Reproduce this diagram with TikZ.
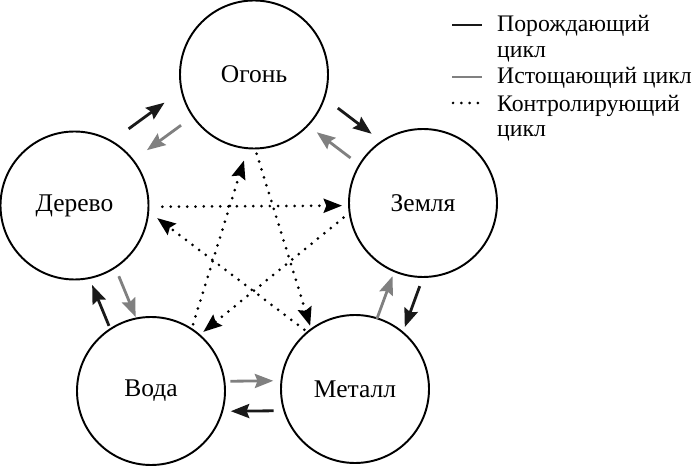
\documentclass[tikz,border=0pt]{standalone}
\usepackage{fontspec}
\setmainfont{Liberation Serif}
\usetikzlibrary{calc,arrows.meta}

% ========= Colors =========
\definecolor{gencolor}{RGB}{25,25,25}
\definecolor{drncolor}{RGB}{128,128,128}

% ========= Helper: short arrow beside the line between two elements =========
% args: style, from, to, start fraction, end fraction, side offset
\newcommand{\cyclearrow}[6]{
    \draw[#1] ($(#2)!#4!(#3)!#6!90:(#3)$) -- ($(#2)!#5!(#3)!#6!-90:(#2)$);
}

\begin{document}
\begin{tikzpicture}[
    font=\fontsize{13.5}{15}\selectfont,
    line join=round,
    element/.style={circle, draw, line width=1.1pt, minimum size=2.96cm, inner sep=0pt,
        font=\fontsize{14.5}{16}\selectfont},
    genline/.style={draw=gencolor, line width=1.6pt},
    drnline/.style={draw=drncolor, line width=1.6pt},
    ctrlline/.style={draw=black, line width=1.7pt, line cap=round, dash pattern=on 0pt off 4.7pt},
    headed/.style={-{Stealth[length=10.5pt,width=8pt,inset=1.5pt]}}
]
\useasboundingbox (0,0) rectangle (14,9.38);

% ========= Elements =========
\node[element] (fire)  at (5.08,7.89) {Огонь};
\node[element] (earth) at (8.46,5.32) {Земля};
\node[element] (metal) at (7.10,1.60) {Металл};
\node[element] (water) at (3.02,1.56) {Вода};
\node[element] (wood)  at (1.49,5.27) {Дерево};

% ========= Generating cycle =========
\cyclearrow{genline,headed}{wood}{fire}{0.40}{0.60}{0.60cm}
\cyclearrow{genline,headed}{fire}{earth}{0.41}{0.61}{0.48cm}
\cyclearrow{genline,headed}{earth}{metal}{0.40}{0.62}{0.51cm}
\cyclearrow{genline,headed}{metal}{water}{0.40}{0.61}{0.42cm}
\cyclearrow{genline,headed}{water}{wood}{0.38}{0.60}{0.28cm}

% ========= Draining cycle =========
\cyclearrow{drnline,headed}{fire}{wood}{0.40}{0.59}{-0.04cm}
\cyclearrow{drnline,headed}{earth}{fire}{0.40}{0.60}{0.16cm}
\cyclearrow{drnline,headed}{metal}{earth}{0.37}{0.60}{0.07cm}
\cyclearrow{drnline,headed}{water}{metal}{0.39}{0.60}{0.18cm}
\cyclearrow{drnline,headed}{wood}{water}{0.41}{0.63}{0.28cm}

% ========= Controlling cycle (star) =========
\draw[ctrlline,headed,shorten <=7.4pt,shorten >=3.4pt] (wood.-1) -- (earth.182);
\draw[ctrlline,headed,shorten <=3.8pt,shorten >=2.3pt] (earth.188) -- (water.49);
\draw[ctrlline,headed,shorten <=2.3pt,shorten >=6.7pt] (water.57) -- (fire.265);
\draw[ctrlline,headed,shorten <=2.5pt,shorten >=1.5pt] (fire.271) -- (metal.126);
\draw[ctrlline,headed,shorten <=1.7pt,shorten >=5.7pt] (metal.130) -- (wood.-5);

% ========= Legend =========
\draw[genline] (9.04,8.88) -- (9.64,8.88);
\draw[drnline] (9.04,7.84) -- (9.64,7.84);
\draw[ctrlline] (9.06,7.32) -- (9.64,7.32);

\node[anchor=base west] (lgen)   at (9.82,8.74) {Порождающий};
\node[anchor=base west] (lgenb)  at (9.82,8.22) {цикл};
\node[anchor=base west] (ldrn)   at (9.82,7.70) {Истощающий цикл};
\node[anchor=base west] (lctrl)  at (9.82,7.14) {Контролирующий};
\node[anchor=base west] (lctrlb) at (9.82,6.64) {цикл};

\end{tikzpicture}
\end{document}
